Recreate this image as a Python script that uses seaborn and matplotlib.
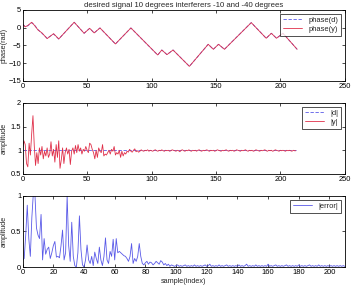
import matplotlib
matplotlib.use('Agg')
import matplotlib.pyplot as plt
import seaborn as sns
import numpy as np
import pandas as pd

# ----- data -----
# phase trace: vertices of the piecewise-linear phase (rad)
phase_idx = [0, 2, 4, 7, 9, 12, 15, 19, 24, 28, 40, 47.7, 52, 55.5, 60, 72, 84,
             104.8, 108, 112, 116.7, 129.4, 144, 148, 152, 156.6, 177.4, 189,
             193, 197, 202, 213]
phase_d = [0.9, 0.3, 0.5, 1.4, 0.8, -0.6, -1.6, -3.0, -1.8, -3.2, 1.5, -1.6, -0.2,
           -1.5, -0.1, -4.6, -0.1, -7.7, -6.3, -7.6, -6.3, -10.9, -4.7, -6.1,
           -4.7, -6.1, 1.4, -3.0, -1.6, -3.0, -1.6, -6.1]
phase_y = [1.0, 0.2, 0.6, 1.5, 0.7, -0.7, -1.5, -3.1, -1.7, -3.2, 1.5, -1.6, -0.2,
           -1.5, -0.1, -4.6, -0.1, -7.7, -6.3, -7.6, -6.3, -10.9, -4.7, -6.1,
           -4.7, -6.1, 1.4, -3.0, -1.6, -3.0, -1.6, -6.1]

# amplitude of output |y| per sample
amp_y = [
    1.05, 1.20, 1.12, 0.72, 0.65, 1.15, 0.90, 1.35, 1.73, 1.10,
    0.68, 0.95, 0.72, 1.05, 0.90, 1.08, 0.82, 0.98, 0.88, 1.05,
    0.85, 0.92, 1.18, 0.88, 1.02, 0.75, 1.12, 0.85, 1.20, 0.62,
    0.80, 1.05, 0.72, 0.95, 1.05, 0.92, 1.02, 0.70, 0.98, 1.05,
    0.92, 1.10, 0.95, 1.12, 0.98, 1.05, 0.92, 1.02, 0.98, 1.08,
    1.00, 0.95, 1.15, 1.12, 1.02, 0.95, 0.82, 1.00, 0.85, 1.05,
    0.98, 0.95, 1.12, 0.88, 0.92, 0.90, 0.95, 1.00, 0.92, 1.02,
    0.98, 1.08, 0.90, 0.95, 0.92, 1.00, 0.85, 0.98, 0.88, 0.95,
    0.92, 0.98, 0.96, 1.02, 0.98, 0.96, 1.00, 1.03, 0.97, 0.99,
    0.96, 0.98, 1.01, 0.99, 0.98, 1.00, 0.99, 1.01, 0.98, 1.00,
    0.99, 0.98, 1.00, 1.01, 0.99, 0.98, 1.00, 0.99, 1.01, 0.99,
    0.98, 1.00, 0.99, 1.00, 0.98, 0.99, 1.01, 1.00, 0.99, 0.98,
    1.00, 0.99, 0.97, 1.00, 1.01, 0.99, 0.98, 1.00, 0.99, 1.01,
    0.99, 0.98, 1.00, 0.99, 1.00, 0.98, 1.00, 1.01, 0.99, 0.98,
    1.00, 0.99, 1.00, 1.01, 0.99, 0.98, 1.00, 0.99, 1.00, 0.98,
    0.99, 1.01, 1.00, 0.99, 0.98, 1.00, 0.99, 1.00, 1.01, 0.99,
    0.98, 1.00, 0.99, 1.00, 0.98, 0.99, 1.01, 1.00, 0.99, 0.98,
    1.00, 0.99, 1.00, 1.01, 0.99, 0.98, 1.00, 0.99, 1.00, 0.98,
    0.99, 1.01, 1.00, 0.99, 0.98, 1.00, 0.99, 1.00, 1.01, 0.99,
    0.98, 1.00, 0.99, 1.00, 0.98, 0.99, 1.01, 1.00, 0.99, 0.98,
    1.00, 0.99, 1.00, 0.99, 0.98, 1.00, 0.99, 1.00, 0.99, 0.98,
    1.00, 0.99, 0.99,
]
amp_d = [1.0] * len(amp_y)

# magnitude of error per sample
err = [
    0.10, 0.12, 0.45, 0.87, 0.40, 0.15, 0.70, 1.05, 1.02, 0.55,
    0.45, 0.40, 0.74, 0.10, 0.40, 0.18, 0.25, 0.28, 0.12, 0.20,
    0.30, 0.36, 0.14, 0.15, 0.13, 0.30, 0.52, 0.10, 0.20, 1.00,
    0.30, 0.08, 0.63, 0.15, 0.02, 0.00, 0.20, 0.72, 0.25, 0.03,
    0.00, 0.10, 0.31, 0.10, 0.05, 0.15, 0.02, 0.21, 0.12, 0.05,
    0.28, 0.10, 0.02, 0.15, 0.41, 0.10, 0.05, 0.22, 0.15, 0.39,
    0.10, 0.40, 0.20, 0.22, 0.20, 0.18, 0.16, 0.15, 0.12, 0.08,
    0.15, 0.33, 0.05, 0.12, 0.08, 0.15, 0.33, 0.15, 0.05, 0.03,
    0.06, 0.08, 0.04, 0.07, 0.06, 0.03, 0.05, 0.08, 0.06, 0.04,
    0.09, 0.07, 0.03, 0.05, 0.02, 0.04, 0.01, 0.03, 0.02, 0.01,
    0.02, 0.03, 0.01, 0.02, 0.01, 0.02, 0.03, 0.01, 0.02, 0.01,
    0.02, 0.01, 0.03, 0.01, 0.02, 0.01, 0.02, 0.01, 0.02, 0.03,
    0.01, 0.02, 0.04, 0.01, 0.02, 0.01, 0.02, 0.01, 0.03, 0.01,
    0.02, 0.01, 0.02, 0.03, 0.01, 0.02, 0.01, 0.02, 0.01, 0.02,
    0.01, 0.03, 0.01, 0.02, 0.01, 0.02, 0.04, 0.01, 0.02, 0.01,
    0.02, 0.01, 0.03, 0.01, 0.02, 0.01, 0.02, 0.01, 0.02, 0.01,
    0.04, 0.01, 0.02, 0.01, 0.02, 0.03, 0.01, 0.02, 0.01, 0.02,
    0.01, 0.02, 0.03, 0.01, 0.02, 0.01, 0.02, 0.01, 0.02, 0.01,
    0.03, 0.01, 0.02, 0.01, 0.02, 0.01, 0.02, 0.03, 0.01, 0.02,
    0.01, 0.02, 0.01, 0.03, 0.01, 0.02, 0.01, 0.02, 0.01, 0.02,
    0.01, 0.02, 0.01, 0.02, 0.01, 0.02, 0.01, 0.02, 0.01, 0.02,
    0.01, 0.02, 0.01,
]

title = 'desired signal 10 degrees interferers -10 and -40 degrees'

# ----- style -----
sns.set_style('white')
plt.rcParams['font.family'] = ['Liberation Sans', 'DejaVu Sans']
fs = 5.4
plt.rcParams.update({
    'font.size': fs,
    'axes.linewidth': 0.6,
    'axes.edgecolor': 'black',
    'xtick.direction': 'in', 'ytick.direction': 'in',
    'xtick.top': True, 'ytick.right': True,
    'xtick.bottom': True, 'ytick.left': True,
    'xtick.major.size': 2.2, 'ytick.major.size': 2.2,
    'xtick.major.width': 0.5, 'ytick.major.width': 0.5,
    'xtick.major.pad': 1.5, 'ytick.major.pad': 1.0,
    'xtick.color': 'black', 'ytick.color': 'black',
    'xtick.labelsize': fs, 'ytick.labelsize': fs,
    'axes.labelsize': 5.2,
    'legend.fontsize': fs,
})

blue = '#5a5ae8'
red = '#e0304a'

fig = plt.figure(figsize=(3.54, 2.89), dpi=100)
ax1 = fig.add_axes([0.064, 0.720, 0.910, 0.246])
ax2 = fig.add_axes([0.064, 0.398, 0.910, 0.246])
ax3 = fig.add_axes([0.064, 0.076, 0.910, 0.246])

def legend(ax):
    leg = ax.legend(loc='upper right', frameon=True, fancybox=False,
                    handlelength=2.6, borderpad=0.4, labelspacing=0.2,
                    borderaxespad=0.5)
    leg.get_frame().set_edgecolor('black')
    leg.get_frame().set_linewidth(0.6)
    return leg

# panel 1: phase
df1 = pd.DataFrame({'idx': phase_idx, 'd': phase_d, 'y': phase_y})
sns.lineplot(data=df1, x='idx', y='d', ax=ax1, color=blue, lw=0.6,
             linestyle=(0, (4, 2)), label='phase(d)')
sns.lineplot(data=df1, x='idx', y='y', ax=ax1, color=red, lw=0.6,
             label='phase(y)')
ax1.set_xlim(0, 250)
ax1.set_ylim(-15, 5)
ax1.set_yticks([-15, -10, -5, 0, 5])
ax1.set_xticks(range(0, 251, 50))
ax1.set_xlabel('')
ax1.set_ylabel('phase(rad)')
ax1.set_title(title, fontsize=5.6, pad=2)
legend(ax1)

# panel 2: amplitude
n = np.arange(len(amp_y))
df2 = pd.DataFrame({'idx': n, 'd': amp_d, 'y': amp_y})
sns.lineplot(data=df2, x='idx', y='d', ax=ax2, color=blue, lw=0.6,
             linestyle=(0, (4, 2)), label='|d|')
sns.lineplot(data=df2, x='idx', y='y', ax=ax2, color=red, lw=0.6, label='|y|')
ax2.set_xlim(0, 250)
ax2.set_ylim(0.5, 2)
ax2.set_yticks([0.5, 1, 1.5, 2])
ax2.set_yticklabels(['0.5', '1', '1.5', '2'])
ax2.set_xticks(range(0, 251, 50))
ax2.set_xlabel('')
ax2.set_ylabel('amplitude')
legend(ax2)

# panel 3: error
df3 = pd.DataFrame({'idx': np.arange(len(err)), 'e': err})
sns.lineplot(data=df3, x='idx', y='e', ax=ax3, color=blue, lw=0.6,
             label='|error|')
ax3.set_xlim(0, 210)
ax3.set_ylim(0, 1)
ax3.set_yticks([0, 0.5, 1])
ax3.set_yticklabels(['0', '0.5', '1'])
ax3.set_xticks(range(0, 201, 20))
ax3.set_xlabel('sample(index)', labelpad=1)
ax3.set_ylabel('amplitude')
legend(ax3)

for ax in (ax1, ax2, ax3):
    ax.yaxis.set_label_coords(-0.046, 0.5)
    for s in ax.spines.values():
        s.set_visible(True)
        s.set_color('black')

fig.savefig('out.png', dpi=100)
